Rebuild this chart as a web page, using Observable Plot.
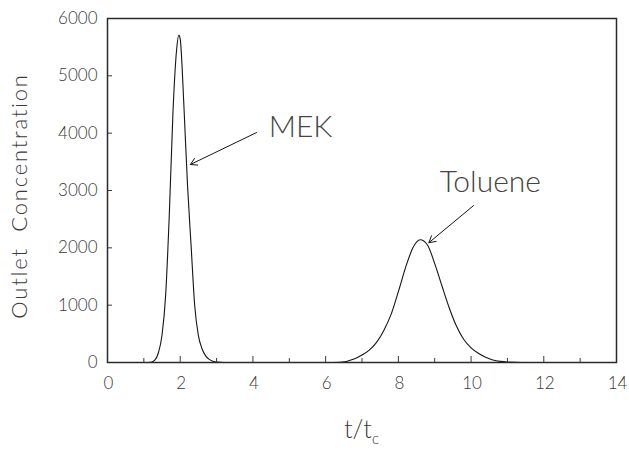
<!DOCTYPE html>
<html>
<head>
<meta charset="utf-8">
<script src="https://cdn.jsdelivr.net/npm/d3@7"></script>
<script src="https://cdn.jsdelivr.net/npm/@observablehq/plot@0.6"></script>
<style>
  body { margin: 0; background: #fff; }
  #chart svg { display: block; }
</style>
</head>
<body>
<div id="chart"></div>
<script>
// Outlet concentration history for the two solutes (time in units of t_c)
const mekT = [0, 1.0, 1.2, 1.3, 1.4, 1.5, 1.6, 1.7, 1.8, 1.9, 1.96, 2.0, 2.1, 2.2, 2.3, 2.4, 2.5, 2.6, 2.7, 2.8, 2.9, 3.0, 3.2, 4.5];
const mekC = [0, 0, 5, 40, 170, 480, 1180, 2580, 4350, 5450, 5710, 5640, 4500, 3100, 2030, 980, 470, 240, 115, 55, 22, 8, 0, 0];

const tolT = [4.5, 6.0, 6.4, 6.8, 7.0, 7.2, 7.4, 7.6, 7.8, 8.0, 8.2, 8.4, 8.6, 8.8, 9.0, 9.2, 9.4, 9.6, 9.8, 10.0, 10.2, 10.4, 10.6, 10.8, 11.0, 11.4, 14];
const tolC = [0, 0, 5, 65, 130, 215, 350, 560, 840, 1235, 1660, 2000, 2140, 2050, 1725, 1334, 951, 631, 400, 255, 160, 92, 45, 20, 8, 0, 0];

// Axis ticks
const xTicks = [0, 2, 4, 6, 8, 10, 12, 14];
const xMinorTicks = [1, 3, 5, 7, 9, 11, 13];
const yTicks = [0, 1000, 2000, 3000, 4000, 5000, 6000];

// Peak annotations: label anchor and arrow (from -> to) in data units
const peakNames = ["MEK", "Toluene"];
const peakLabelT = [5.31, 10.53];
const peakLabelC = [4100, 3140];
const arrowFromT = [4.10, 10.07];
const arrowFromC = [4011, 2738];
const arrowToT = [2.28, 8.84];
const arrowToC = [3453, 2090];

const curves = [
  ...mekT.map((t, i) => ({t, c: mekC[i], solute: "MEK"})),
  ...tolT.map((t, i) => ({t, c: tolC[i], solute: "Toluene"}))
];
const notes = peakNames.map((name, i) => ({
  name, t: peakLabelT[i], c: peakLabelC[i],
  t1: arrowFromT[i], c1: arrowFromC[i], t2: arrowToT[i], c2: arrowToC[i]
}));

const W = 629, H = 450;
const mL = 107, mR = 13, mT = 18, mB = 88;
const frameW = W - mL - mR, frameH = H - mT - mB;
const ink = "#3a3a3a";
const font = "Lato, 'Noto Sans', sans-serif";

const plot = Plot.plot({
  width: W,
  height: H,
  marginLeft: mL,
  marginRight: mR,
  marginTop: mT,
  marginBottom: mB,
  style: {fontFamily: font, fontWeight: 300, background: "#fff", color: ink},
  x: {domain: [0, 14]},
  y: {domain: [0, 6000]},
  marks: [
    Plot.line(curves, {x: "t", y: "c", z: "solute", stroke: "#151515", strokeWidth: 1.1, curve: "monotone-x"}),
    // inward tick marks
    Plot.tickY(yTicks, {y: d => d, insetRight: frameW - 5, stroke: ink, strokeWidth: 1}),
    Plot.tickX(xTicks, {x: d => d, insetTop: frameH - 6, stroke: ink, strokeWidth: 1}),
    Plot.tickX(xMinorTicks, {x: d => d, insetTop: frameH - 4, stroke: ink, strokeWidth: 1}),
    Plot.frame({stroke: "#2a2a2a", strokeWidth: 1.5}),
    Plot.axisX(xTicks, {tickSize: 0, tickPadding: 14, fontSize: 17, label: null, fill: ink, tickFormat: d3.format("d"), dx: 1, style: {letterSpacing: "2px"}}),
    Plot.axisY(yTicks, {tickSize: 0, tickPadding: 10, fontSize: 17, label: null, fill: ink, tickFormat: d3.format("d"), style: {letterSpacing: "2.5px"}}),
    Plot.arrow(notes, {x1: "t1", y1: "c1", x2: "t2", y2: "c2", stroke: "#151515", strokeWidth: 1, headLength: 11, bend: 0}),
    Plot.text(notes, {x: "t", y: "c", text: "name", fontSize: 30, fill: "#444", fontWeight: 300})
  ]
});

const svg = d3.select(plot);

// y-axis title, rotated along the left edge
const yMid = (plot.scale("y").apply(0) + plot.scale("y").apply(6000)) / 2;
svg.append("text")
  .attr("transform", `translate(27,${yMid + 6}) rotate(-90)`)
  .attr("text-anchor", "middle")
  .attr("font-family", font)
  .attr("font-weight", 300)
  .attr("font-size", 22)
  .attr("letter-spacing", "1.8px")
  .attr("fill", ink)
  .text("Outlet  Concentration");

// x-axis title with subscript
const xMid = plot.scale("x").apply(7);
const title = svg.append("text")
  .attr("x", xMid)
  .attr("y", 438)
  .attr("text-anchor", "middle")
  .attr("font-family", font)
  .attr("font-weight", 300)
  .attr("font-size", 25)
  .attr("fill", ink);
title.append("tspan").text("t/t");
title.append("tspan").attr("font-size", 15).attr("dy", 6).text("c");

document.getElementById("chart").appendChild(plot);
</script>
</body>
</html>
